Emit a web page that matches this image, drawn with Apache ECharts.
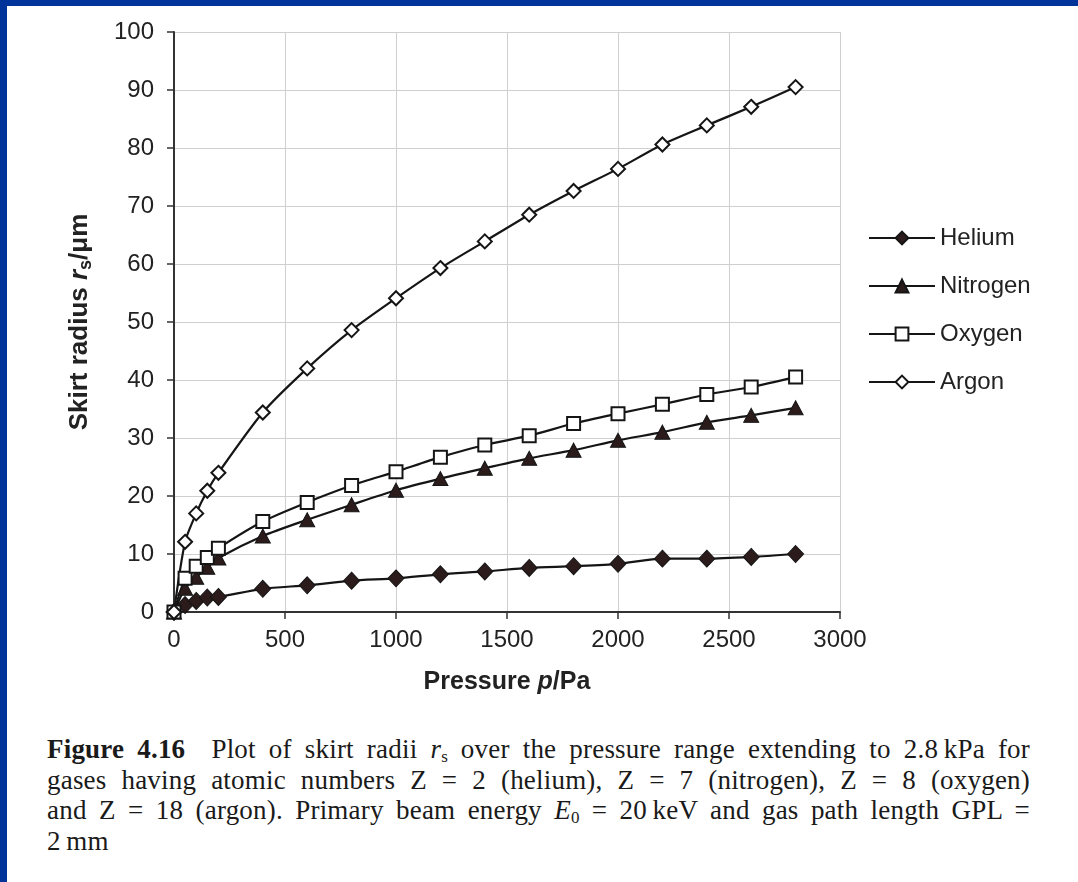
<!DOCTYPE html>
<html>
<head>
<meta charset="utf-8">
<script src="https://cdn.jsdelivr.net/npm/echarts@6/dist/echarts.min.js"></script>
<style>
  html, body { margin: 0; padding: 0; background: #fff; width: 1078px; height: 882px; overflow: hidden; }
  #frameTop { position: absolute; left: 0; top: 0; width: 1078px; height: 6px; background: #00349a; }
  #frameLeft { position: absolute; left: 0; top: 0; width: 7px; height: 882px; background: #00349a; }
  #chart { position: absolute; left: 0; top: 0; width: 1078px; height: 700px; }
  #caption { position: absolute; left: 47px; top: 734px; width: 983px; font-family: "Liberation Serif", "DejaVu Serif", serif; font-size: 27px; letter-spacing: 0.2px; line-height: 30.7px; color: #1a1a1a; }
  #caption .l { text-align: justify; text-align-last: justify; white-space: nowrap; }
  #caption .last { text-align: left; }
  #caption sub { font-size: 17px; vertical-align: -4px; line-height: 0; letter-spacing: 0; }
</style>
</head>
<body>
<div id="chart"></div>
<div id="frameTop"></div>
<div id="frameLeft"></div>
<div id="caption">
  <div class="l"><b>Figure 4.16</b>&nbsp; Plot of skirt radii <i>r</i><sub>s</sub> over the pressure range extending to 2.8&#8201;kPa for</div>
  <div class="l">gases having atomic numbers Z = 2 (helium), Z = 7 (nitrogen), Z = 8 (oxygen)</div>
  <div class="l">and Z = 18 (argon). Primary beam energy <i>E</i><sub>0</sub> = 20&#8201;keV and gas path length GPL =</div>
  <div class="last">2&#8201;mm</div>
</div>
<script>
const pressure = [0, 50, 100, 150, 200, 400, 600, 800, 1000, 1200, 1400, 1600, 1800, 2000, 2200, 2400, 2600, 2800];
const helium   = [0, 1.2, 1.9, 2.5, 2.6, 4.0, 4.6, 5.4, 5.8, 6.5, 7.0, 7.6, 7.9, 8.3, 9.2, 9.2, 9.5, 10.0];
const nitrogen = [0, 4.1, 6.0, 7.7, 9.3, 13.1, 15.9, 18.5, 21.0, 23.0, 24.8, 26.5, 27.9, 29.6, 31.0, 32.7, 33.9, 35.2];
const oxygen   = [0, 5.8, 7.9, 9.4, 11.0, 15.6, 18.9, 21.8, 24.2, 26.7, 28.8, 30.4, 32.5, 34.2, 35.8, 37.5, 38.8, 40.5];
const argon    = [0, 12.1, 17.0, 20.9, 24.0, 34.4, 42.0, 48.6, 54.1, 59.3, 63.9, 68.5, 72.6, 76.4, 80.6, 83.9, 87.1, 90.5];
const seriesNames = ['Helium', 'Nitrogen', 'Oxygen', 'Argon'];
const xTicks = [0, 500, 1000, 1500, 2000, 2500, 3000];
const yTicks = [0, 10, 20, 30, 40, 50, 60, 70, 80, 90, 100];

const chart = echarts.init(document.getElementById('chart'), null, { renderer: 'canvas' });
const pair = arr => pressure.map((p, i) => [p, arr[i]]);
const lineColor = '#151515';
const darkFill = '#2b1b1b';
const font = 'Liberation Sans, Arial, sans-serif';

function mk(name, arr, symbol, size, fill) {
  return {
    name: name, type: 'line', data: pair(arr),
    symbol: symbol, symbolSize: size, smooth: 0.25,
    showAllSymbol: true,
    lineStyle: { color: lineColor, width: 2.2 },
    itemStyle: { color: fill, borderColor: lineColor, borderWidth: fill === '#ffffff' ? 2 : 1, opacity: 1 },
    emphasis: { disabled: true },
    z: 3
  };
}

const option = {
  animation: false,
  backgroundColor: '#ffffff',
  textStyle: { fontFamily: font },
  grid: { left: 174, right: 238, top: 32, bottom: 86, containLabel: false },
  legend: {
    orient: 'vertical', left: 863, top: 221,
    itemWidth: 66, itemHeight: 16, itemGap: 24,
    data: seriesNames,
    textStyle: { fontSize: 24, color: '#222', fontFamily: font, lineHeight: 24 }
  },
  xAxis: {
    type: 'value', min: xTicks[0], max: xTicks[xTicks.length - 1], interval: 500,
    name: '{b|Pressure }{i|p}{b|/Pa}', nameLocation: 'middle', nameGap: 58,
    nameTextStyle: {
      rich: {
        b: { fontSize: 25, fontWeight: 'bold', color: '#222', fontFamily: font },
        i: { fontSize: 25, fontWeight: 'bold', fontStyle: 'italic', color: '#222', fontFamily: font }
      }
    },
    axisLine: { show: true, onZero: false, lineStyle: { color: '#333', width: 2 } },
    axisTick: { show: true, length: 7, lineStyle: { color: '#333', width: 1.5 } },
    axisLabel: { fontSize: 24, color: '#222', margin: 16, fontFamily: font, formatter: v => String(v) },
    splitLine: { show: true, lineStyle: { color: '#cfcfcf', width: 1 } }
  },
  yAxis: {
    type: 'value', min: yTicks[0], max: yTicks[yTicks.length - 1], interval: 10,
    name: '{b|Skirt radius }{i|r}{s|s}{b|/μm}', nameLocation: 'middle', nameGap: 79,
    nameTextStyle: {
      rich: {
        b: { fontSize: 26, fontWeight: 'bold', color: '#222', fontFamily: font, lineHeight: 30, verticalAlign: 'middle' },
        i: { fontSize: 26, fontWeight: 'bold', fontStyle: 'italic', color: '#222', fontFamily: font, lineHeight: 30, verticalAlign: 'middle' },
        s: { fontSize: 18, fontWeight: 'bold', color: '#222', fontFamily: font, lineHeight: 18, verticalAlign: 'bottom' }
      }
    },
    axisLine: { show: true, onZero: false, lineStyle: { color: '#333', width: 2 } },
    axisTick: { show: true, length: 7, lineStyle: { color: '#333', width: 1.5 } },
    axisLabel: { fontSize: 24, color: '#222', margin: 20, fontFamily: font, formatter: v => String(v) },
    splitLine: { show: true, lineStyle: { color: '#cfcfcf', width: 1 } }
  },
  series: [
    mk('Helium', helium, 'diamond', [16, 17], darkFill),
    mk('Nitrogen', nitrogen, 'triangle', [15, 14], darkFill),
    mk('Oxygen', oxygen, 'rect', [13, 13], '#ffffff'),
    mk('Argon', argon, 'diamond', [14, 14], '#ffffff')
  ]
};
chart.setOption(option);
</script>
</body>
</html>
